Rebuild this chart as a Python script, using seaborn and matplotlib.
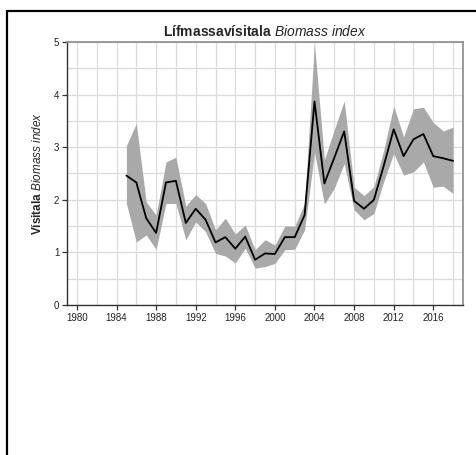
import numpy as np
import pandas as pd
import seaborn as sns
import matplotlib.pyplot as plt
from matplotlib.lines import Line2D
from matplotlib.ticker import MultipleLocator

years = list(range(1985, 2019))
index = [2.46, 2.33, 1.65, 1.37, 2.33, 2.36, 1.56, 1.83, 1.62, 1.19,
         1.29, 1.07, 1.30, 0.86, 0.98, 0.97, 1.29, 1.29, 1.71, 3.87,
         2.31, 2.80, 3.30, 1.98, 1.83, 2.00, 2.65, 3.34, 2.83, 3.15,
         3.25, 2.83, 2.79, 2.74]
upper = [3.03, 3.45, 1.96, 1.71, 2.72, 2.81, 1.88, 2.10, 1.93, 1.43,
         1.65, 1.35, 1.52, 1.05, 1.24, 1.14, 1.50, 1.50, 1.93, 4.97,
         2.76, 3.33, 3.88, 2.24, 2.08, 2.25, 2.95, 3.78, 3.20, 3.73,
         3.76, 3.47, 3.31, 3.38]
lower = [1.93, 1.20, 1.33, 1.06, 1.93, 1.93, 1.24, 1.58, 1.39, 0.98,
         0.93, 0.80, 1.08, 0.70, 0.73, 0.79, 1.05, 1.06, 1.43, 2.90,
         1.92, 2.22, 2.69, 1.81, 1.62, 1.74, 2.35, 2.88, 2.47, 2.53,
         2.72, 2.24, 2.26, 2.12]

df = pd.DataFrame({"year": years, "index": index, "upper": upper, "lower": lower})

sns.set_style("white")
plt.rcParams["font.family"] = ["Liberation Sans", "DejaVu Sans"]
plt.rcParams["mathtext.fontset"] = "custom"
plt.rcParams["mathtext.rm"] = "Liberation Sans"
plt.rcParams["mathtext.bf"] = "Liberation Sans:bold"
plt.rcParams["mathtext.it"] = "Liberation Sans:italic"

fig = plt.figure(figsize=(4.77, 4.55), dpi=100)
ax = fig.add_axes([0.1405, 0.3297, 0.8301, 0.578])

ax.fill_between(df["year"], df["lower"], df["upper"], color="#a9a9a9", lw=0, zorder=2)
sns.lineplot(data=df, x="year", y="index", color="black", lw=1.3, ax=ax, zorder=3)

ax.set_xlim(1979, 2019)
ax.set_ylim(0, 5)
ax.xaxis.set_major_locator(MultipleLocator(4))
ax.xaxis.set_minor_locator(MultipleLocator(2))
ax.yaxis.set_major_locator(MultipleLocator(1))
ax.yaxis.set_minor_locator(MultipleLocator(0.5))
ax.grid(which="both", color="#dcdcdc", lw=0.9, zorder=0)
ax.set_axisbelow(True)

ax.tick_params(axis="both", which="major", bottom=True, left=True, direction="out",
               length=3.5, width=0.9, color="#333333",
               labelsize=7, pad=2, labelcolor="#222222")
ax.tick_params(which="minor", length=0)
for side in ["left", "bottom"]:
    ax.spines[side].set_color("#333333")
    ax.spines[side].set_linewidth(1.0)
for side in ["top", "right"]:
    ax.spines[side].set_color("#8a8a8a")
    ax.spines[side].set_linewidth(1.2)

ax.set_xlabel("")
ax.set_ylabel(r"$\mathbf{Vísitala}$ $\mathit{Biomass\ index}$", fontsize=8.5, labelpad=7)
ax.set_title(r"$\mathbf{Lífmassavísitala}$ $\mathit{Biomass\ index}$", fontsize=10, pad=4)

# outer frame lines
fig.add_artist(Line2D([7 / 477, 7 / 477], [0, 1 - 11 / 455], color="black", lw=1.6,
                      transform=fig.transFigure))
fig.add_artist(Line2D([7 / 477, 1], [1 - 11 / 455, 1 - 11 / 455], color="black", lw=1.6,
                      transform=fig.transFigure))

fig.savefig("out.png", dpi=100)
